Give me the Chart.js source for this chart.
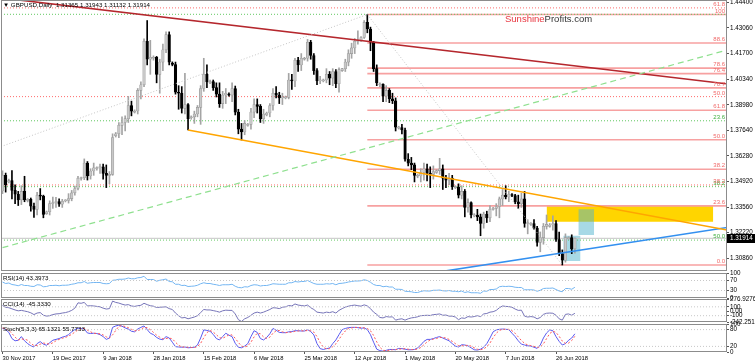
<!DOCTYPE html>
<html>
<head>
<meta charset="utf-8">
<title>GBPUSD Daily</title>
<script src="https://cdn.jsdelivr.net/npm/chart.js@4.4.0/dist/chart.umd.min.js"></script>
<style>
  html, body { margin: 0; padding: 0; background: #fff; }
  body { width: 755px; height: 363px; position: relative; overflow: hidden; }
  canvas { position: absolute; left: 0; }
</style>
</head>
<body>
<canvas id="main" width="755" height="272" style="top:0"></canvas>
<canvas id="rsi" width="755" height="31" style="top:270px"></canvas>
<canvas id="cci" width="755" height="29" style="top:296px"></canvas>
<canvas id="stoch" width="755" height="42" style="top:321px"></canvas>
<script>
// one label every 16 daily bars (Sunday bars included)
const dateTicks = ['30 Nov 2017', '19 Dec 2017', '9 Jan 2018', '28 Jan 2018', '15 Feb 2018', '6 Mar 2018',
  '25 Mar 2018', '12 Apr 2018', '1 May 2018', '20 May 2018', '7 Jun 2018', '26 Jun 2018'];
const priceTicks = [1.3086, 1.3222, 1.3356, 1.3492, 1.3628, 1.3764, 1.3898, 1.4034, 1.4170, 1.4306, 1.4440];

const opens = [1.3442,1.3525,1.3490,1.3497,1.3445,1.3425,1.3395,1.3440,1.3392,1.3398,
1.3362,1.3345,1.3420,1.3415,1.3322,1.3332,1.3375,1.3380,1.3386,1.3372,
1.3390,1.3392,1.3402,1.3432,1.3455,1.3508,1.3512,1.3590,1.3522,1.3548,
1.3560,1.3566,1.3570,1.3535,1.3525,1.3530,1.3735,1.3745,1.3790,1.3805,
1.3825,1.3895,1.3860,1.3866,1.3975,1.4005,1.4235,1.4140,1.4145,1.4150,
1.4060,1.4125,1.4190,1.4270,1.4120,1.4112,1.3965,1.3960,1.3880,1.3900,
1.3830,1.3835,1.3850,1.3885,1.3985,1.4060,1.4015,1.4022,1.3990,1.3955,
1.3905,1.3950,1.3955,1.3950,1.3985,1.3860,1.3770,1.3755,1.3790,1.3795,
1.3860,1.3900,1.3890,1.3825,1.3845,1.3855,1.3895,1.3960,1.3950,1.3935,
1.3935,1.3938,1.4030,1.4025,1.4135,1.4110,1.4140,1.4145,1.4230,1.4160,
1.4080,1.4025,1.4025,1.4030,1.4060,1.4040,1.4075,1.4010,1.4080,1.4090,
1.4125,1.4170,1.4200,1.4235,1.4240,1.4255,1.4335,1.4300,1.4230,1.4090,
1.4005,1.4008,1.3945,1.3975,1.3930,1.3920,1.3775,1.3778,1.3765,1.3610,
1.3590,1.3580,1.3520,1.3522,1.3540,1.3560,1.3535,1.3530,1.3540,1.3550,
1.3560,1.3510,1.3500,1.3510,1.3460,1.3462,1.3420,1.3440,1.3355,1.3380,
1.3310,1.3315,1.3305,1.3270,1.3320,1.3300,1.3345,1.3350,1.3360,1.3400,
1.3420,1.3410,1.3420,1.3418,1.3385,1.3375,1.3400,1.3270,1.3265,1.3270,
1.3245,1.3170,1.3195,1.3255,1.3255,1.3262,1.3270,1.3185,1.3110,1.3075,
1.3190,1.3195,1.31365];
const highs = [1.3549,1.3537,1.3505,1.3550,1.3475,1.3440,1.3470,1.3520,1.3402,1.3405,
1.3378,1.3435,1.3455,1.3420,1.3336,1.3390,1.3410,1.3408,1.3400,1.3398,
1.3396,1.3428,1.3445,1.3468,1.3520,1.3516,1.3612,1.3598,1.3560,1.3590,
1.3570,1.3585,1.3585,1.3580,1.3545,1.3745,1.3752,1.3805,1.3835,1.3840,
1.3943,1.3918,1.3872,1.3985,1.4020,1.4248,1.4345,1.4240,1.4158,1.4155,
1.4140,1.4220,1.4285,1.4285,1.4126,1.4125,1.4000,1.3995,1.4065,1.3905,
1.3840,1.3865,1.3895,1.4000,1.4145,1.4110,1.4030,1.4030,1.4015,1.4015,
1.3970,1.3985,1.3962,1.4015,1.3998,1.3875,1.3800,1.3815,1.3800,1.3880,
1.3930,1.3930,1.3900,1.3875,1.3860,1.3905,1.3985,1.3995,1.3965,1.3960,
1.3945,1.4065,1.4060,1.4145,1.4150,1.4170,1.4150,1.4245,1.4240,1.4170,
1.4090,1.4050,1.4035,1.4090,1.4075,1.4090,1.4085,1.4095,1.4092,1.4140,
1.4190,1.4225,1.4250,1.4290,1.4260,1.4345,1.4377,1.4310,1.4235,1.4110,
1.4015,1.4010,1.4000,1.3985,1.3960,1.3935,1.3785,1.3795,1.3775,1.3640,
1.3620,1.3590,1.3530,1.3560,1.3590,1.3585,1.3570,1.3575,1.3555,1.3615,
1.3580,1.3525,1.3535,1.3525,1.3470,1.3480,1.3470,1.3450,1.3400,1.3385,
1.3322,1.3345,1.3320,1.3330,1.3335,1.3365,1.3355,1.3375,1.3410,1.3450,
1.3470,1.3440,1.3428,1.3425,1.3420,1.3430,1.3440,1.3290,1.3275,1.3290,
1.3255,1.3225,1.3270,1.3315,1.3270,1.3310,1.3285,1.3225,1.3130,1.3215,
1.3200,1.3210,1.31943];
const lows = [1.3428,1.3436,1.3485,1.3400,1.3375,1.3365,1.3370,1.3385,1.3384,1.3335,
1.3302,1.3315,1.3395,1.3300,1.3318,1.3315,1.3350,1.3355,1.3360,1.3355,
1.3384,1.3378,1.3390,1.3420,1.3448,1.3500,1.3502,1.3500,1.3505,1.3525,
1.3553,1.3535,1.3505,1.3460,1.3480,1.3525,1.3728,1.3725,1.3740,1.3760,
1.3805,1.3840,1.3855,1.3850,1.3930,1.3995,1.4110,1.4060,1.4135,1.4015,
1.3960,1.4080,1.4175,1.4110,1.4105,1.3955,1.3875,1.3855,1.3850,1.3765,
1.3822,1.3800,1.3835,1.3795,1.3970,1.3990,1.4010,1.3975,1.3940,1.3885,
1.3880,1.3905,1.3945,1.3915,1.3845,1.3745,1.3712,1.3740,1.3785,1.3770,
1.3830,1.3855,1.3805,1.3800,1.3840,1.3835,1.3870,1.3935,1.3905,1.3900,
1.3930,1.3930,1.3980,1.3995,1.4075,1.4080,1.4135,1.4130,1.4140,1.4060,
1.4005,1.4010,1.4020,1.4015,1.4005,1.4000,1.3990,1.3965,1.4075,1.4075,
1.4105,1.4145,1.4170,1.4220,1.4235,1.4250,1.4280,1.4185,1.4075,1.4000,
1.3995,1.3915,1.3915,1.3910,1.3905,1.3760,1.3770,1.3745,1.3600,1.3575,
1.3555,1.3490,1.3512,1.3490,1.3500,1.3495,1.3460,1.3505,1.3535,1.3530,
1.3450,1.3460,1.3475,1.3450,1.3455,1.3405,1.3400,1.3305,1.3330,1.3300,
1.3305,1.3285,1.3205,1.3245,1.3275,1.3280,1.3340,1.3310,1.3300,1.3365,
1.3400,1.3385,1.3412,1.3375,1.3350,1.3355,1.3250,1.3215,1.3260,1.3240,
1.3150,1.3120,1.3160,1.3240,1.3250,1.3235,1.3175,1.3100,1.3050,1.3065,
1.3185,1.3110,1.31132];
const closes = [1.3525,1.3476,1.3497,1.3445,1.3425,1.3395,1.3440,1.3395,1.3398,1.3362,
1.3345,1.3420,1.3415,1.3318,1.3332,1.3375,1.3380,1.3386,1.3372,1.3388,
1.3392,1.3402,1.3432,1.3455,1.3510,1.3512,1.3590,1.3522,1.3548,1.3565,
1.3566,1.3570,1.3535,1.3525,1.3530,1.3725,1.3745,1.3790,1.3805,1.3825,
1.3895,1.3865,1.3866,1.3975,1.4005,1.4235,1.4140,1.4150,1.4150,1.4060,
1.4125,1.4190,1.4270,1.4125,1.4112,1.3965,1.3960,1.3880,1.3900,1.3825,
1.3835,1.3850,1.3885,1.3985,1.4060,1.4020,1.4022,1.3990,1.3955,1.3905,
1.3950,1.3960,1.3950,1.3985,1.3860,1.3770,1.3755,1.3800,1.3795,1.3860,
1.3900,1.3890,1.3825,1.3850,1.3855,1.3895,1.3960,1.3950,1.3935,1.3940,
1.3938,1.4030,1.4025,1.4135,1.4110,1.4145,1.4145,1.4230,1.4160,1.4080,
1.4025,1.4030,1.4030,1.4060,1.4040,1.4075,1.4010,1.4085,1.4090,1.4125,
1.4170,1.4200,1.4235,1.4240,1.4255,1.4335,1.4300,1.4230,1.4090,1.4015,
1.4008,1.3945,1.3975,1.3930,1.3920,1.3780,1.3778,1.3765,1.3610,1.3590,
1.3580,1.3525,1.3522,1.3540,1.3560,1.3535,1.3530,1.3545,1.3550,1.3560,
1.3510,1.3500,1.3510,1.3465,1.3462,1.3420,1.3440,1.3355,1.3380,1.3315,
1.3315,1.3305,1.3270,1.3320,1.3300,1.3345,1.3350,1.3360,1.3400,1.3420,
1.3410,1.3425,1.3418,1.3385,1.3375,1.3400,1.3270,1.3270,1.3270,1.3245,
1.3170,1.3195,1.3255,1.3265,1.3262,1.3270,1.3185,1.3110,1.3075,1.3195,
1.3195,1.3135,1.31914];

const rsiVals = [64,58,60,54,52,49,54,50,50,47, 46,53,52,45,46,50,50,51,49,51,
51,52,55,57,61,61,66,59,61,62, 62,62,58,57,58,71,72,75,75,76,
80,77,77,81,82,87,74,74,74,67, 71,73,76,66,65,55,55,50,51,46,
47,48,51,57,61,58,58,55,53,50, 53,53,53,55,47,42,41,45,44,50,
53,52,48,50,50,53,57,56,55,55, 55,61,61,66,64,66,66,70,64,58,
55,55,55,57,56,58,53,58,59,61, 64,66,68,68,69,73,70,63,54,50,
50,45,47,44,44,35,35,34,27,26, 25,22,22,26,29,28,28,31,31,32,
29,28,30,27,27,25,28,22,25,21, 21,21,19,28,27,34,34,36,45,47,
46,47,46,43,42,42,33,33,33,32, 27,31,38,39,39,40,34,28,25,38,
38,35,43];
const cciVals = [130,90,80,55,30,10,20,5,-10,-35, -75,-40,-30,-90,-110,-100,-75,-60,-55,-40,
-30,-10,20,70,190,180,200,120,125,120, 110,100,70,50,60,230,200,185,160,140,
150,120,110,125,135,180,150,125,115,85, 90,95,100,60,40,-40,-100,-150,-140,-170,
-150,-130,-100,-30,40,30,30,15,0,-20, 10,25,20,20,-60,-190,-230,-170,-140,-90,
-40,-20,-40,-20,10,40,80,75,60,90, 100,130,120,165,140,130,120,140,80,40,
-20,-30,-40,-20,-30,-10,-40,20,60,95, 115,130,140,125,115,145,120,60,-20,-70,
-140,-150,-120,-130,-125,-200,-180,-170,-200,-170, -150,-140,-125,-100,-95,-90,-95,-75,-70,-60,
-90,-85,-110,-110,-130,-190,-150,-160,-120,-130, -120,-100,-120,-60,-50,-20,-10,20,80,120,
110,105,90,50,20,25,-110,-130,-120,-130, -170,-140,-70,-45,-40,-45,-90,-170,-200,-70,
-60,-90,-45];
const stochK = [84,80,70,48,40,42,55,40,30,22, 18,30,37,28,24,33,42,45,48,53,
56,62,72,80,85,84,82,68,66,67, 66,62,55,45,50,88,93,96,92,86,
82,74,72,82,88,93,80,67,62,52, 46,44,55,50,35,19,18,17,18,15,
16,17,25,50,79,77,74,63,48,43, 55,67,60,55,31,17,15,21,30,55,
76,70,48,43,52,65,84,78,70,69, 69,72,73,76,76,75,75,80,73,61,
30,12,9,12,14,30,43,62,80,84, 87,88,88,87,85,86,80,62,35,10,
5,3,6,9,9,8,13,12,10,8, 8,9,15,25,38,45,45,48,52,55,
50,45,40,30,21,18,26,25,22,15, 8,7,10,17,30,50,72,79,81,82,
81,80,67,55,40,28,25,22,21,17, 13,25,50,68,79,76,55,38,25,30,
42,50,65];
const stochD = [86,83,78,66,53,43,46,46,42,31, 23,23,28,32,30,28,33,40,45,49,
52,57,63,71,79,83,84,78,72,67, 66,65,61,54,50,61,77,92,94,91,
87,81,76,76,81,88,87,80,70,60, 53,47,48,50,47,35,24,18,18,17,
16,16,19,31,51,69,77,71,62,51, 49,55,61,61,49,34,21,18,22,35,
54,67,65,54,48,53,67,76,77,72, 69,70,71,74,75,76,75,77,76,71,
55,34,17,11,12,19,29,45,62,75, 84,86,88,88,87,86,84,76,59,36,
17,6,5,6,8,9,10,11,12,10, 9,8,11,16,26,36,43,46,48,52,
52,50,45,38,30,23,22,23,24,21, 15,10,8,11,19,32,51,67,77,81,
81,81,76,67,54,41,31,25,23,20, 17,18,29,48,66,74,70,56,39,31,
32,41,56];

const rsiLevels = [70, 30];
const cciLevels = [100, -100];
const stochLevels = [80, 20];
const rsiTicks = [0, 30, 70, 100];
const cciTicks = [-242.2515, -100, 0, 100, 276.9276];
const cciTickText = ['-242.2515', '-100', '0.00', '100', '276.9276'];
const stochTicks = [0, 20, 80, 100];

// fibonacci retracement Apr 17 high -> Jun 28 low
const fibLow = 1.3050, fibHigh = 1.4377;
const fibRatios = [1, 0.886, 0.786, 0.764, 0.707, 0.618, 0.5, 0.382, 0.236, 0];
const fibTags = ['100', '88.6', '78.6', '76.4', '70.7', '61.8', '50.0', '38.2', '23.6', '0.0'];
const dotRed = [1.4412, 1.3942, 1.3474];
const dotRedTags = ['61.8', '50.0', '38.2'];
const dotGreen = [1.4378, 1.3814, 1.3465, 1.3182];
const dotGreenTags = ['', '23.6', '38.2', '50.0'];

// trend lines as [bar, price] pairs
const redTrend = [[0, 1.4464], [230, 1.4010]];
const greenTrend = [[0, 1.3142], [230, 1.4187]];
const grayUp = [[-0.5, 1.3677], [116, 1.4377]];
const grayDown = [[116, 1.4377], [178, 1.3050]];
const orangeTrend = [[59, 1.3765], [230.4, 1.3235]];
const blueTrend = [[120, 1.2965], [230.4, 1.3249]];
// zones: [fromBar, toBar, low, high]
const yellowZone = [173, 226, 1.3279, 1.3363];
const blueZoneA = [183.1, 188.1, 1.3209, 1.3345];
const blueZoneB = [178.3, 183.8, 1.3071, 1.3205];

const X_MIN = -0.48, X_MAX = 230.37;
const FONT = '"Liberation Sans", Arial, sans-serif';
Chart.defaults.font.family = FONT;

const idx = closes.map((_, i) => i);
const up = idx.map(i => closes[i] >= opens[i]);

const paneDecor = {
  id: 'paneDecor',
  afterDatasetsDraw(chart) {
    const { ctx, chartArea: a } = chart;
    const y = chart.scales.y;
    ctx.save();
    ctx.font = '6px ' + FONT;
    ctx.textAlign = 'right';
    ctx.textBaseline = 'bottom';
    chart.data.datasets.forEach(ds => {
      if (!ds.tag) return;
      ctx.fillStyle = ds.tagColor;
      ctx.fillText(ds.tag, a.right - 2, y.getPixelForValue(ds.data[0].y) - 0.5);
    });
    const t = chart.options.plugins.paneDecor.title;
    ctx.font = '6.2px ' + FONT;
    ctx.textAlign = 'left';
    ctx.textBaseline = 'middle';
    ctx.fillStyle = '#000';
    ctx.fillText(t, a.left + 2, a.top + 4.8);
    ctx.restore();
  },
  afterDraw(chart) {
    const { ctx, chartArea: a } = chart;
    ctx.save();
    ctx.strokeStyle = '#8c8c8c';
    ctx.lineWidth = 1;
    ctx.strokeRect(a.left + 0.5, a.top + 0.5, a.right - a.left - 1, a.bottom - a.top - 1);
    ctx.restore();
  }
};

const mainExtras = {
  id: 'mainExtras',
  beforeDatasetsDraw(chart) {
    const ctx = chart.ctx;
    ctx.save();
    ctx.font = '9.5px ' + FONT;
    ctx.textBaseline = 'middle';
    ctx.textAlign = 'left';
    ctx.fillStyle = '#e8353f';
    ctx.fillText('Sunshine', 505, 19.5);
    const w = ctx.measureText('Sunshine').width;
    ctx.fillStyle = '#333';
    ctx.fillText('Profits.com', 505 + w, 19.5);
    ctx.restore();
  },
  afterDraw(chart) {
    const { ctx, chartArea: a } = chart;
    const last = closes[closes.length - 1];
    const py = chart.scales.y.getPixelForValue(last);
    ctx.save();
    ctx.fillStyle = '#000';
    ctx.fillRect(a.right, Math.round(py) - 4, 28, 9);
    ctx.fillStyle = '#fff';
    ctx.font = '6.3px ' + FONT;
    ctx.textBaseline = 'middle';
    ctx.textAlign = 'left';
    ctx.fillText(last.toFixed(5), a.right + 3, Math.round(py) + 0.5);
    ctx.restore();
  }
};

function xAxis(show) {
  return {
    type: 'linear', min: X_MIN, max: X_MAX, offset: false, bounds: 'data', display: show,
    afterBuildTicks: s => { s.ticks = dateTicks.map((d, k) => ({ value: k * 16 })); },
    afterFit: s => { if (show) s.height = 11; s.paddingLeft = 0; s.paddingRight = 0; },
    grid: { drawOnChartArea: false, tickLength: 2, color: '#555' },
    border: { display: false },
    ticks: { align: 'start', maxRotation: 0, autoSkip: false, padding: 1, color: '#000',
      font: { size: 5.8 }, callback: v => dateTicks[Math.round(v / 16)] }
  };
}

function yAxis(min, max, ticks, fmt) {
  return {
    position: 'right', min, max, bounds: 'data',
    afterFit: s => { s.width = 28; s.paddingTop = 0; s.paddingBottom = 0; },
    afterBuildTicks: s => { s.ticks = ticks.map(v => ({ value: v })); },
    grid: { drawOnChartArea: false, tickLength: 2, color: '#555' },
    border: { display: false },
    ticks: { autoSkip: false, padding: 1, color: '#000', font: { size: 6.3 }, callback: fmt }
  };
}

function baseOptions(yCfg, showX, pad, title) {
  return {
    responsive: false, animation: false, events: [],
    layout: { padding: pad, autoPadding: false },
    elements: { point: { radius: 0 }, line: { tension: 0 } },
    plugins: { legend: { display: false }, tooltip: { enabled: false }, paneDecor: { title } },
    scales: { x: xAxis(showX), y: yCfg }
  };
}

const hline = (x0, price, color, dash, width, tag, tagColor) => ({
  type: 'line', data: [{ x: x0, y: price }, { x: X_MAX, y: price }],
  borderColor: color, borderWidth: width, borderDash: dash, fill: false, tag, tagColor, order: 4
});
const seg = (pts, color, width, dash) => ({
  type: 'line', data: pts.map(p => ({ x: p[0], y: p[1] })),
  borderColor: color, borderWidth: width, borderDash: dash, fill: false, order: 1
});
const zone = (z, color, order) => ({
  type: 'line', data: [{ x: z[0], y: z[3] }, { x: z[1], y: z[3] }],
  borderWidth: 0, borderColor: 'rgba(0,0,0,0)', backgroundColor: color, fill: { value: z[2] }, order
});

const mainSets = [
  zone(yellowZone, '#ffd500', 6),
  zone(blueZoneB, 'rgba(80,180,205,0.5)', 5),
  zone(blueZoneA, 'rgba(80,180,205,0.5)', 5),
  hline(X_MIN, closes[closes.length - 1], '#c4c4c4', [], 1, '', ''),
  ...dotGreen.map((p, k) => hline(X_MIN, p, '#62c862', [1, 2], 1, dotGreenTags[k], '#3fae3f')),
  ...dotRed.map((p, k) => hline(X_MIN, p, '#ff6b6b', [1, 2], 1, dotRedTags[k], '#f06a6a')),
  ...fibRatios.map((r, k) => hline(116, fibLow + r * (fibHigh - fibLow), '#f7a1a1', [], 1.6, fibTags[k], '#f06a6a')),
  { type: 'bar', data: idx.map(i => ({ x: i, y: [lows[i], highs[i]] })),
    backgroundColor: idx.map(i => up[i] ? '#a4a4a4' : '#000'), barThickness: 1, grouped: false, order: 3 },
  { type: 'bar', data: idx.map(i => ({ x: i, y: [opens[i], closes[i]] })),
    backgroundColor: idx.map(i => up[i] ? '#c8c8c8' : '#000'), borderColor: idx.map(i => up[i] ? '#9a9a9a' : '#000'),
    borderWidth: 0.6, borderSkipped: false, barThickness: 2.6, minBarLength: 1, grouped: false, order: 2 },
  seg(grayUp, '#c4c4c4', 1, [1, 2]),
  seg(grayDown, '#c4c4c4', 1, [1, 2]),
  seg(greenTrend, '#8fe08f', 1.2, [6, 4]),
  seg(redTrend, '#b5272d', 1.6, []),
  seg(orangeTrend, '#ffa500', 1.6, []),
  seg(blueTrend, '#3390f0', 1.6, [])
];

new Chart(document.getElementById('main'), {
  type: 'bar',
  data: { datasets: mainSets },
  options: baseOptions(yAxis(1.30182, 1.44538, priceTicks, v => v.toFixed(5)), false,
    { top: 0, bottom: 1, left: 1, right: 0 }, '\u25BC GBPUSD,Daily  1.31365 1.31943 1.31132 1.31914'),
  plugins: [paneDecor, mainExtras]
});

const levelSets = levels => levels.map(v => ({
  type: 'line', data: [{ x: X_MIN, y: v }, { x: X_MAX, y: v }],
  borderColor: '#c8c8c8', borderWidth: 1, borderDash: [1, 2]
}));
const series = (vals, color, dash) => ({
  type: 'line', data: vals.map((v, i) => ({ x: i, y: v })),
  borderColor: color, borderWidth: 1, borderDash: dash
});

new Chart(document.getElementById('rsi'), {
  type: 'line',
  data: { datasets: [...levelSets(rsiLevels), series(rsiVals, '#74b6f2', [])] },
  options: baseOptions(yAxis(0, 100, rsiTicks, v => String(v)), false,
    { top: 3, bottom: 3, left: 1, right: 0 }, 'RSI(14) 43.3973'),
  plugins: [paneDecor]
});

new Chart(document.getElementById('cci'), {
  type: 'line',
  data: { datasets: [...levelSets(cciLevels), series(cciVals, '#7674b8', [])] },
  options: baseOptions(yAxis(-242.2515, 276.9276, cciTicks, (v, i) => cciTickText[i]), false,
    { top: 3, bottom: 3, left: 1, right: 0 }, 'CCI(14) -45.3330'),
  plugins: [paneDecor]
});

new Chart(document.getElementById('stoch'), {
  type: 'line',
  data: { datasets: [...levelSets(stochLevels), series(stochD, '#ff5a5a', [2, 2]), series(stochK, '#5a5af0', [])] },
  options: baseOptions(yAxis(0, 100, stochTicks, v => String(v)), true,
    { top: 3, bottom: 0, left: 1, right: 0 }, 'Stoch(5,3,3) 65.1321 55.7733'),
  plugins: [paneDecor]
});
</script>
</body>
</html>
